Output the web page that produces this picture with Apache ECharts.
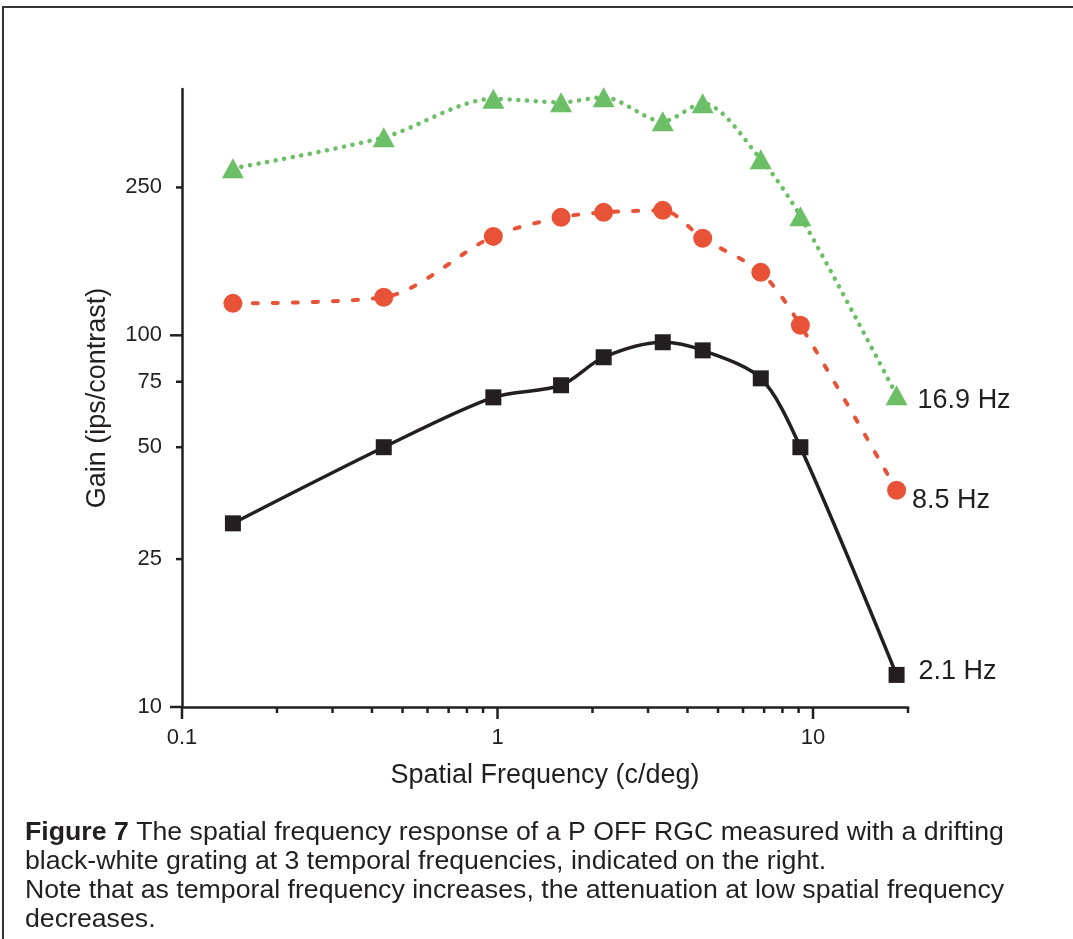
<!DOCTYPE html>
<html>
<head>
<meta charset="utf-8">
<script src="https://cdn.jsdelivr.net/npm/echarts@6/dist/echarts.min.js"></script>
<style>
html,body{margin:0;padding:0;background:#fff;}
#chart{width:1073px;height:939px;}
</style>
</head>
<body>
<div id="chart"></div>
<script>
// ---- data ----
const spatialFreq = [0.145, 0.436, 0.97, 1.59, 2.17, 3.34, 4.47, 6.83, 9.12, 18.4];
const gain2_1Hz  = [31.2, 50, 68.1, 73.4, 87.3, 95.8, 91.1, 76.6, 50, 12.2];
const gain8_5Hz  = [121.9, 126.6, 184.6, 207.7, 214.2, 216.9, 182.4, 147.7, 106.4, 38.3];
const gain16_9Hz = [281.4, 341, 432.8, 423.6, 436.9, 376.5, 421, 297.5, 209, 69];
const seriesNames = ['2.1 Hz', '8.5 Hz', '16.9 Hz'];

const xTickValues = [0.1,0.2,0.3,0.4,0.5,0.6,0.7,0.8,0.9,1,2,3,4,5,6,7,8,9,10,20];
const xMajorTicks = [0.1, 1, 10];
const xTickLabels = ['0.1', '1', '10'];
const yTickValues = [10, 25, 50, 75, 100, 250];
const yMajorTicks = [10, 100];
const yTickLabels = ['10', '25', '50', '75', '100', '250'];

const X_MIN = 0.1, X_MAX = 20, Y_MIN = 10, Y_MAX = 460;

const captionBold = 'Figure 7';
const captionLines = [
  ' The spatial frequency response of a P OFF RGC measured with a drifting',
  'black-white grating at 3 temporal frequencies, indicated on the right.',
  'Note that as temporal frequency increases, the attenuation at low spatial frequency',
  'decreases.'
];

// ---- styles ----
const INK = '#231f20';
const GREEN = '#6cbf66';
const RED = '#e85236';
const FONT = "'Liberation Sans', Arial, Helvetica, sans-serif";

function pairs(ys) { return spatialFreq.map((x, i) => [x, ys[i]]); }

function withEndLabel(ys, text, offset) {
  const d = pairs(ys).map(p => ({ value: p }));
  d[d.length - 1].label = {
    show: true, position: 'right', formatter: text, distance: 0, offset: offset,
    color: INK, fontSize: 27, fontFamily: FONT
  };
  return d;
}

const chart = echarts.init(document.getElementById('chart'), null, { renderer: 'canvas' });

const option = {
  animation: false,
  backgroundColor: '#ffffff',
  grid: { left: 182, right: 165, top: 89, bottom: 232, containLabel: false },
  xAxis: {
    type: 'log', logBase: 10, min: X_MIN, max: X_MAX,
    name: 'Spatial Frequency (c/deg)', nameLocation: 'middle', nameGap: 55,
    nameTextStyle: { color: INK, fontSize: 27, fontFamily: FONT },
    axisLine: { show: true, onZero: false, lineStyle: { color: INK, width: 2.5 } },
    axisTick: { show: false }, axisLabel: { show: false }, splitLine: { show: false }
  },
  yAxis: {
    type: 'log', logBase: 10, min: Y_MIN, max: Y_MAX,
    name: 'Gain (ips/contrast)', nameLocation: 'middle', nameGap: 71, nameRotate: 90,
    nameTextStyle: { color: INK, fontSize: 27, fontFamily: FONT },
    axisLine: { show: true, onZero: false, lineStyle: { color: INK, width: 2.5 } },
    axisTick: { show: false }, axisLabel: { show: false }, splitLine: { show: false }
  },
  series: [
    {
      name: seriesNames[2], type: 'line', smooth: 0.3,
      data: withEndLabel(gain16_9Hz, seriesNames[2], [10, 5]),
      symbol: 'triangle', symbolSize: [22, 20],
      itemStyle: { color: GREEN },
      lineStyle: { color: GREEN, width: 4.5, type: [0.1, 8.6], cap: 'round' },
      z: 3
    },
    {
      name: seriesNames[1], type: 'line', smooth: 0.3,
      data: withEndLabel(gain8_5Hz, seriesNames[1], [6, 10]),
      symbol: 'circle', symbolSize: 19,
      itemStyle: { color: RED },
      lineStyle: { color: RED, width: 4, type: [5, 15], cap: 'round' },
      z: 3
    },
    {
      name: seriesNames[0], type: 'line', smooth: 0.3,
      data: withEndLabel(gain2_1Hz, seriesNames[0], [14, -3]),
      symbol: 'rect', symbolSize: 16,
      itemStyle: { color: INK },
      lineStyle: { color: INK, width: 3.5 },
      z: 3
    },
    {
      type: 'custom', clip: false, silent: true, z: 5,
      data: xTickValues.map(v => [v, Y_MIN]),
      renderItem: function (params, api) {
        const v = xTickValues[params.dataIndex];
        const p = api.coord([v, Y_MIN]);
        const mi = xMajorTicks.indexOf(v);
        const len = mi >= 0 ? 12 : 6;
        const children = [{
          type: 'line',
          shape: { x1: p[0], y1: p[1], x2: p[0], y2: p[1] + len },
          style: { stroke: INK, lineWidth: 2.5 }
        }];
        if (mi >= 0) {
          children.push({
            type: 'text', x: p[0], y: p[1] + 20,
            style: { text: xTickLabels[mi], fill: INK, fontSize: 22, fontFamily: FONT, align: 'center', verticalAlign: 'top' }
          });
        }
        return { type: 'group', children: children };
      }
    },
    {
      type: 'custom', clip: false, silent: true, z: 5,
      data: yTickValues.map(v => [X_MIN, v]),
      renderItem: function (params, api) {
        const v = yTickValues[params.dataIndex];
        const p = api.coord([X_MIN, v]);
        const len = yMajorTicks.indexOf(v) >= 0 ? 12 : 6;
        return {
          type: 'group',
          children: [
            { type: 'line', shape: { x1: p[0] - len, y1: p[1], x2: p[0], y2: p[1] }, style: { stroke: INK, lineWidth: 2.5 } },
            { type: 'text', x: p[0] - 20, y: p[1],
              style: { text: yTickLabels[params.dataIndex], fill: INK, fontSize: 22, fontFamily: FONT, align: 'right', verticalAlign: 'middle' } }
          ]
        };
      }
    }
  ],
  graphic: [
    {
      type: 'polyline', silent: true,
      shape: { points: [[3, 939], [3, 7], [1073, 7]] },
      style: { stroke: '#333333', lineWidth: 2, fill: null }
    },
    {
      type: 'text', left: 25, top: 818, silent: true,
      style: {
        text: '{b|' + captionBold + '}' + captionLines[0] + '\n' + captionLines.slice(1).join('\n'),
        fill: INK, fontSize: 26.7, fontFamily: FONT, lineHeight: 29,
        rich: { b: { fontWeight: 'bold', fontSize: 26.7, fontFamily: FONT, fill: INK, lineHeight: 29 } }
      }
    }
  ]
};
chart.setOption(option);
</script>
</body>
</html>
